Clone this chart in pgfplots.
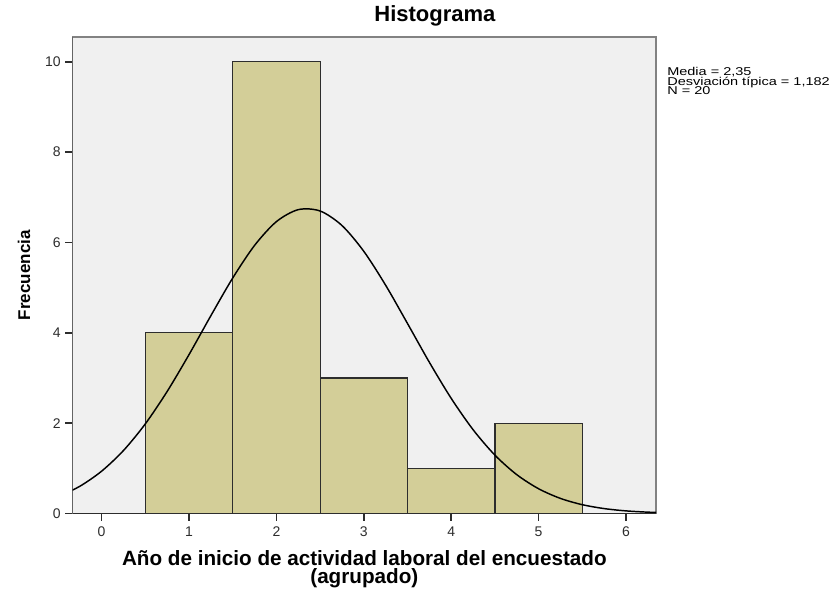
\documentclass[border=0pt]{standalone}
\usepackage{pgfplots}
\pgfplotsset{compat=1.18}
\usepackage{fontspec}
\setmainfont{Liberation Sans}

\definecolor{barfill}{RGB}{211,206,152}
\definecolor{plotbg}{RGB}{240,240,240}
\definecolor{frame}{RGB}{130,130,130}
\definecolor{darkline}{RGB}{45,45,45}

% frequencies per bin (bin edges at 0.5 ... 5.5)
\pgfplotstableread{
x    f
0.5  4
1.5  10
2.5  3
3.5  1
4.5  2
5.5  2
}\bins

% normal curve: mean 2,35, sd 1,182, N 20, bin width 1
\pgfplotstableread{
x     y
-0.5  0.369
-0.25 0.601
0     0.936
0.25  1.393
0.5   1.983
0.75  2.701
1     3.516
1.25  4.378
1.5   5.212
1.75  5.934
2     6.461
2.25  6.726
2.5   6.696
2.75  6.375
3     5.803
3.25  5.052
3.5   4.205
3.75  3.347
4     2.548
4.25  1.855
4.5   1.291
4.75  0.859
5     0.547
5.25  0.333
5.5   0.194
5.75  0.108
6     0.057
6.25  0.029
6.5   0.014
}\curve

\begin{document}
\begin{tikzpicture}
\useasboundingbox (-54.5pt,-56.6pt) rectangle (575.5pt,385.1pt);
\begin{axis}[
    at={(0,0)}, anchor=south west,
    scale only axis,
    width=437.5pt, height=357.4pt,
    xmin=-0.331, xmax=6.343,
    ymin=0, ymax=10.55,
    xtick={0,1,...,6},
    ytick={0,2,...,10},
    xtick pos=lower, ytick pos=left,
    axis line style={frame, line width=1pt},
    axis background/.style={fill=plotbg},
    tick align=outside,
    major tick length=5.5pt,
    every tick/.style={darkline, line width=1.1pt},
    tick label style={font=\fontsize{10.5}{12}\selectfont, text=darkline},
    /pgf/number format/assume math mode=true,
    xticklabel style={yshift=-1pt},
    title={Histograma},
    title style={at={(axis description cs:0.621,1.016)}, anchor=base,
        inner sep=0pt, font=\fontsize{16.5}{18}\selectfont\bfseries},
    ylabel={Frecuencia},
    ylabel style={at={(axis description cs:-0.0731,0.5)}, anchor=base,
        inner sep=0pt, font=\fontsize{12.75}{14}\selectfont\bfseries},
    xlabel={Año de inicio de actividad laboral del encuestado\\(agrupado)},
    xlabel style={at={(axis description cs:0.5,-0.148)}, anchor=base,
        align=center, inner sep=0pt,
        font=\fontsize{15.5}{14}\selectfont\bfseries},
    clip=true,
]
\addplot[ybar interval, fill=barfill, draw=darkline, line width=0.9pt]
    table[x=x, y=f] {\bins};
\addplot[smooth, black, line width=1.1pt, no markers]
    table[x=x, y=y] {\curve};
\draw[darkline, line width=1.1pt] (rel axis cs:0,1) -- (rel axis cs:0,0) -- (rel axis cs:1,0);
\end{axis}
\begin{scope}[font=\fontsize{8.5}{10}\selectfont]
\node[anchor=base west, inner sep=0pt, xscale=1.28] at (445.7pt,328.4pt) {Media = 2,35};
\node[anchor=base west, inner sep=0pt, xscale=1.28] at (445.7pt,321.3pt) {Desviación típica = 1,182};
\node[anchor=base west, inner sep=0pt, xscale=1.28] at (445.7pt,314.2pt) {N = 20};
\end{scope}
\end{tikzpicture}
\end{document}
